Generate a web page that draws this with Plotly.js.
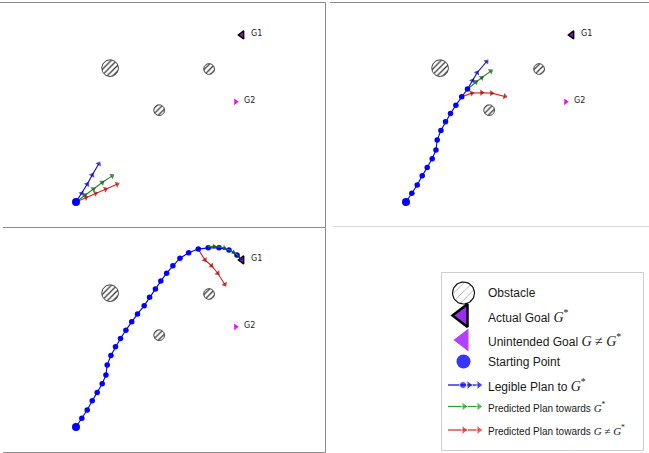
<!DOCTYPE html>
<html><head><meta charset="utf-8">
<script src="https://cdn.plot.ly/plotly-3.0.1.min.js"></script>
<style>html,body{margin:0;padding:0;background:#fff}#chart{width:649px;height:453px}</style>
</head><body><div id="chart"></div>
<script>
// ---------------- data ----------------
const startX = [1.01];
const startY = [0.60];
const goalNames = ['G1', 'G2'];
const goalX = [5.00, 4.85];
const goalY = [4.62, 3.01];
const obstacleX = [1.83, 4.21, 3.01];
const obstacleY = [3.82, 3.80, 2.81];
const obstacleR = [0.20, 0.13, 0.13];

// full legible plan (panel 3); first 14 points are executed in panel 2
const pathX = [1.01, 1.15, 1.28, 1.40, 1.52, 1.64, 1.73, 1.76, 1.85, 1.96, 2.08, 2.21, 2.35, 2.49, 2.65, 2.78, 2.92, 3.05, 3.19, 3.34, 3.51, 3.72, 3.95, 4.19, 4.45, 4.69, 4.88, 5.00];
const pathY = [0.60, 0.81, 1.01, 1.23, 1.43, 1.64, 1.85, 2.09, 2.32, 2.53, 2.73, 2.93, 3.13, 3.32, 3.52, 3.72, 3.92, 4.11, 4.30, 4.48, 4.66, 4.79, 4.88, 4.91, 4.91, 4.86, 4.74, 4.62];
const executedSteps = 14;

// panel 1 (t = 0)
const p1BlueX = [1.01, 1.15, 1.28, 1.40, 1.56];
const p1BlueY = [0.60, 0.81, 1.03, 1.25, 1.52];
const p1GreenX = [1.01, 1.23, 1.43, 1.64, 1.88];
const p1GreenY = [0.60, 0.77, 0.91, 1.07, 1.23];
const p1RedX = [1.01, 1.25, 1.48, 1.72, 2.00];
const p1RedY = [0.60, 0.71, 0.81, 0.91, 1.03];

// panel 2 (mid-way)
const p2BlueX = [2.49, 2.61, 2.72, 2.95];
const p2BlueY = [3.32, 3.52, 3.71, 3.98];
const p2GreenX = [2.49, 2.69, 2.83, 3.05];
const p2GreenY = [3.32, 3.49, 3.59, 3.75];
const p2RedX = [2.35, 2.59, 2.83, 3.07, 3.39];
const p2RedY = [3.13, 3.22, 3.23, 3.22, 3.14];

// panel 3 (near goal)
const p3GreenX = [4.19, 4.33, 4.58, 4.80, 4.92];
const p3GreenY = [4.94, 4.95, 4.91, 4.81, 4.71];
const p3RedX = [3.95, 4.11, 4.27, 4.42, 4.59];
const p3RedY = [4.88, 4.62, 4.48, 4.30, 4.03];

const legendLabels = [
  'Obstacle',
  'Actual Goal ',
  'Unintended Goal ',
  'Starting Point',
  'Legible Plan to ',
  'Predicted Plan towards ',
  'Predicted Plan towards '
];
const legendMath = ['', 'G*', 'G≠G*', '', 'G*', 'G*', 'G≠G*'];

// ---------------- styling helpers ----------------
const W = 649, H = 453;
const PX = 41.58;               // pixels per data unit
const X0 = -0.8177;             // data x at left edge of panel
const BLUE = '#0000ff', GREEN = '#1e8c1e', RED = '#e81a1a';
const px = v => v / W;
const py = v => (H - v) / H;

function circlePoly(xs, ys, rs) {
  const X = [], Y = [];
  for (let i = 0; i < xs.length; i++) {
    for (let k = 0; k <= 48; k++) {
      const a = 2 * Math.PI * k / 48;
      X.push(xs[i] + rs[i] * Math.cos(a));
      Y.push(ys[i] + rs[i] * Math.sin(a));
    }
    X.push(null); Y.push(null);
  }
  return [X, Y];
}
function arrowSizes(n, s) { return Array.from({length: n}, (_, i) => i === 0 ? 0 : s); }

const traces = [];
function arrowTrace(xa, ya, X, Y, color, mcolor, s) {
  traces.push({x: X, y: Y, xaxis: xa, yaxis: ya, mode: 'lines+markers', hoverinfo: 'skip',
    line: {color: color, width: 1.1},
    marker: {symbol: 'triangle-up', angleref: 'previous', size: arrowSizes(X.length, s || 5.5), color: mcolor, line: {width: 0}}});
}
function pathTraces(xa, ya, X, Y) {
  traces.push({x: X, y: Y, xaxis: xa, yaxis: ya, mode: 'lines', hoverinfo: 'skip',
    line: {color: BLUE, width: 1.1}});
}
function pathDots(xa, ya, X, Y) {
  traces.push({x: X, y: Y, xaxis: xa, yaxis: ya, mode: 'markers', hoverinfo: 'skip',
    marker: {symbol: 'circle', size: 5.5, color: BLUE, line: {width: 0}}});
}
function baseScene(xa, ya) {
  const [cx, cy] = circlePoly(obstacleX, obstacleY, obstacleR);
  traces.push({x: cx, y: cy, xaxis: xa, yaxis: ya, mode: 'lines', fill: 'toself', hoverinfo: 'skip',
    line: {color: '#444', width: 1},
    fillcolor: '#fff',
    fillpattern: {shape: '/', size: 4, solidity: 0.3, fgcolor: '#333', bgcolor: '#fff'}});
  traces.push({x: [goalX[0]], y: [goalY[0]], xaxis: xa, yaxis: ya, mode: 'markers', hoverinfo: 'skip',
    marker: {symbol: 'triangle-left', size: 7, color: '#9a10c8', line: {color: '#000', width: 1.5}}});
  traces.push({x: [goalX[1]], y: [goalY[1]], xaxis: xa, yaxis: ya, mode: 'markers', hoverinfo: 'skip',
    marker: {symbol: 'triangle-right', size: 6, color: '#f010f0', line: {width: 0}}});
}
function startDot(xa, ya) {
  traces.push({x: startX, y: startY, xaxis: xa, yaxis: ya, mode: 'markers', hoverinfo: 'skip',
    marker: {symbol: 'circle', size: 8, color: BLUE}});
}

// panel 1
baseScene('x', 'y');
arrowTrace('x', 'y', p1RedX, p1RedY, RED, '#b00000');
arrowTrace('x', 'y', p1GreenX, p1GreenY, GREEN, '#0d5a0d');
arrowTrace('x', 'y', p1BlueX, p1BlueY, BLUE, '#0000c0');
startDot('x', 'y');

// panel 2
baseScene('x2', 'y2');
pathTraces('x2', 'y2', pathX.slice(0, executedSteps), pathY.slice(0, executedSteps));
arrowTrace('x2', 'y2', p2RedX, p2RedY, RED, '#9a0000');
arrowTrace('x2', 'y2', p2GreenX, p2GreenY, GREEN, '#0d4a0d');
arrowTrace('x2', 'y2', p2BlueX, p2BlueY, BLUE, '#0000a0');
pathDots('x2', 'y2', pathX.slice(0, executedSteps), pathY.slice(0, executedSteps));
startDot('x2', 'y2');

// panel 3
baseScene('x3', 'y3');
pathTraces('x3', 'y3', pathX, pathY);
arrowTrace('x3', 'y3', p3RedX, p3RedY, RED, '#a00000');
pathDots('x3', 'y3', pathX.slice(0, -1), pathY.slice(0, -1));
arrowTrace('x3', 'y3', p3GreenX, p3GreenY, GREEN, '#0d3a0d', 4.5);
startDot('x3', 'y3');

// ---------------- legend (pixel coordinates on overlay axes) ----------------
const LX = 463.5;
const rowY = [293, 315.5, 340, 361.5, 385, 406.5, 430];
{
  const [cx, cy] = circlePoly([LX], [rowY[0]], [11]);
  traces.push({x: cx, y: cy, xaxis: 'x4', yaxis: 'y4', mode: 'lines', fill: 'toself', hoverinfo: 'skip',
    line: {color: '#111', width: 1.2}, fillcolor: '#fff',
    fillpattern: {shape: '/', size: 6, solidity: 0.15, fgcolor: '#aaa', bgcolor: '#fff'}});
  traces.push({x: [LX - 1], y: [rowY[1]], xaxis: 'x4', yaxis: 'y4', mode: 'markers', hoverinfo: 'skip',
    marker: {symbol: 'triangle-left', size: 20, color: '#9b2ff0', line: {color: '#000', width: 2.5}}});
  traces.push({x: [LX], y: [rowY[2]], xaxis: 'x4', yaxis: 'y4', mode: 'markers', hoverinfo: 'skip',
    marker: {symbol: 'triangle-left', size: 20, color: '#b440ff', line: {width: 0}}});
  traces.push({x: [LX], y: [rowY[3]], xaxis: 'x4', yaxis: 'y4', mode: 'markers', hoverinfo: 'skip',
    marker: {symbol: 'circle', size: 14, color: '#3636ff'}});
  traces.push({x: [448, 463, 469, 479], y: [rowY[4], rowY[4], rowY[4], rowY[4]], xaxis: 'x4', yaxis: 'y4',
    mode: 'lines+markers', hoverinfo: 'skip', line: {color: BLUE, width: 1.2},
    marker: {symbol: ['circle', 'circle', 'triangle-up', 'triangle-up'], angleref: 'previous', size: [0, 7, 8, 8], color: BLUE}});
  traces.push({x: [448, 464, 479], y: [rowY[5], rowY[5], rowY[5]], xaxis: 'x4', yaxis: 'y4',
    mode: 'lines+markers', hoverinfo: 'skip', line: {color: '#2ca02c', width: 1.2},
    marker: {symbol: 'triangle-up', angleref: 'previous', size: [0, 8, 8], color: '#2ca02c'}});
  traces.push({x: [448, 464, 479], y: [rowY[6], rowY[6], rowY[6]], xaxis: 'x4', yaxis: 'y4',
    mode: 'lines+markers', hoverinfo: 'skip', line: {color: '#d62728', width: 1.2},
    marker: {symbol: 'triangle-up', angleref: 'previous', size: [0, 8, 8], color: '#d62728'}});
}

function mathHTML(m, size) {
  if (!m) return '';
  const g = '<i>G</i>';
  const inner = m === 'G*' ? g + '<sup>*</sup>' : g + ' ≠ ' + g + '<sup>*</sup>';
  return '<span style="font-family:\'Liberation Serif\',serif;font-size:' + size + 'px">' + inner + '</span>';
}

const annotations = [];
legendLabels.forEach((lab, i) => {
  const small = i >= 5;
  annotations.push({xref: 'x4', yref: 'y4', x: 486, y: rowY[i], xanchor: 'left', yanchor: 'middle', showarrow: false,
    text: lab + mathHTML(legendMath[i], small ? 11 : 14),
    font: {family: 'Liberation Sans, Arial, sans-serif', size: small ? 10 : 12, color: '#1a1a1a'}});
});
// goal labels in each panel
[['x', 'y'], ['x2', 'y2'], ['x3', 'y3']].forEach(([xa, ya]) => {
  goalNames.forEach((name, i) => {
    annotations.push({xref: xa, yref: ya, x: goalX[i], y: goalY[i], xanchor: 'left', yanchor: 'middle',
      xshift: i === 0 ? 7 : 6, yshift: 1.5, showarrow: false, text: name,
      font: {family: 'DejaVu Sans, sans-serif', size: 8, color: '#222'}});
  });
});

// ---------------- frames ----------------
const FR = '#8c8c8c';
function seg(x0, y0, x1, y1, c) {
  return {type: 'line', xref: 'paper', yref: 'paper', x0: px(x0), y0: py(y0), x1: px(x1), y1: py(y1),
    line: {color: c || FR, width: 1}, layer: 'above'};
}
const shapes = [
  seg(0, 2.5, 325.5, 2.5), seg(325.5, 2.5, 325.5, 227.5), seg(3, 227.5, 325.5, 227.5),
  seg(325.5, 227.5, 325.5, 452.5), seg(3, 452.5, 325.5, 452.5),
  seg(330, 2.5, 649, 2.5), seg(333, 226.5, 649, 226.5, '#d8d8d8'),
  {type: 'rect', xref: 'paper', yref: 'paper', x0: px(441.5), y0: py(272.5), x1: px(643.5), y1: py(450.5),
    line: {color: '#cfcfcf', width: 1}, fillcolor: 'rgba(0,0,0,0)', layer: 'below'}
];

const hidden = {showgrid: false, zeroline: false, showticklabels: false, showline: false, ticks: '', fixedrange: true};
const yRange = [0, 225 / PX];
const layout = {
  width: W, height: H, margin: {l: 0, r: 0, t: 0, b: 0},
  paper_bgcolor: '#fff', plot_bgcolor: 'rgba(0,0,0,0)', showlegend: false,
  xaxis: Object.assign({}, hidden, {domain: [0, 325 / W], range: [X0, X0 + 325 / PX], anchor: 'y'}),
  yaxis: Object.assign({}, hidden, {domain: [py(227), py(2)], range: yRange, anchor: 'x'}),
  xaxis2: Object.assign({}, hidden, {domain: [330 / W, 1], range: [X0, X0 + 319 / PX], anchor: 'y2'}),
  yaxis2: Object.assign({}, hidden, {domain: [py(227), py(2)], range: yRange, anchor: 'x2'}),
  xaxis3: Object.assign({}, hidden, {domain: [0, 325 / W], range: [X0, X0 + 325 / PX], anchor: 'y3',
    ticks: 'outside', tickvals: [0, 1, 2, 3, 4, 5, 6], ticklen: 4, tickcolor: '#666', tickwidth: 1}),
  yaxis3: Object.assign({}, hidden, {domain: [py(452), py(227)], range: yRange, anchor: 'x3'}),
  xaxis4: Object.assign({}, hidden, {domain: [0, 1], range: [0, W], anchor: 'y4'}),
  yaxis4: Object.assign({}, hidden, {domain: [0, 1], range: [H, 0], anchor: 'x4'}),
  shapes: shapes,
  annotations: annotations
};

Plotly.newPlot('chart', traces, layout, {staticPlot: true, displayModeBar: false});
</script>
</body></html>
